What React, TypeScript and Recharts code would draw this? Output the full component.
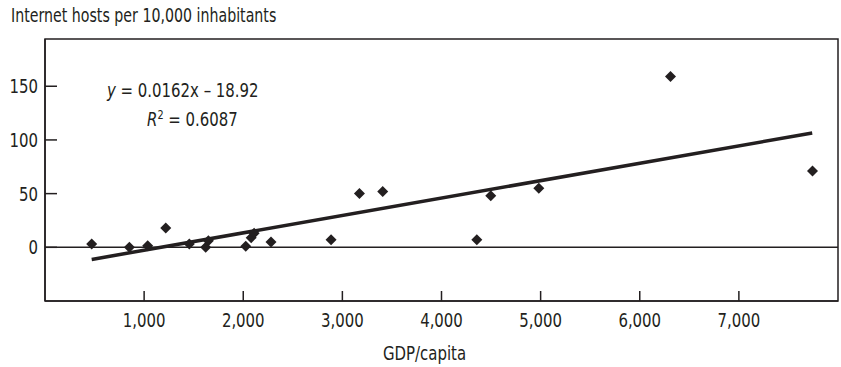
import { ScatterChart, Scatter, XAxis, YAxis, ReferenceLine, ReferenceArea } from "recharts";

// GDP per capita vs internet hosts per 10,000 inhabitants
const gdpPerCapita = [471, 851, 1036, 1218, 1456, 1621, 1648, 2025, 2080, 2110, 2280, 2886, 3172, 3407, 4356, 4497, 4982, 6310, 7743];
const hostsPer10k = [3, 0, 1.5, 18, 3, 0, 6, 1, 9, 13, 5, 7, 50, 52, 7, 48, 55, 159, 71];

const xTicks = [1000, 2000, 3000, 4000, 5000, 6000, 7000];
const yTicks = [0, 50, 100, 150];

const trendSlope = 0.0162;
const trendIntercept = -18.92;
const trendFrom = 471;
const trendTo = 7740;

const ink = "#231f20";
const font = "'Liberation Sans Narrow', 'DejaVu Sans Condensed', 'Roboto Condensed', sans-serif";
const squeeze = "scaleX(0.83)";

const points = gdpPerCapita.map((x, i) => ({ x, y: hostsPer10k[i] }));
const trend = [trendFrom, trendTo].map((x) => ({ x, y: trendSlope * x + trendIntercept }));

const Diamond = (props: any) => {
  const { cx, cy } = props;
  const r = 5.5;
  return <polygon points={`${cx},${cy - r} ${cx + r},${cy} ${cx},${cy + r} ${cx - r},${cy}`} fill={ink} />;
};

const XTick = ({ x, y, payload }: any) => (
  <text
    transform={`translate(${x},${y + 16}) scale(0.83,1)`}
    textAnchor="middle"
    fontSize={20}
    fill={ink}
    style={{ fontFamily: font, fontStretch: "condensed" }}
  >
    {Number(payload.value).toLocaleString("en-US")}
  </text>
);

const YTick = ({ x, y, payload }: any) => (
  <text
    transform={`translate(${x},${y + 7}) scale(0.83,1)`}
    textAnchor="end"
    fontSize={20}
    fill={ink}
    style={{ fontFamily: font, fontStretch: "condensed" }}
  >
    {payload.value}
  </text>
);

const textBox = (left: number, top: number) => ({
  position: "absolute" as const,
  left,
  top,
  fontSize: 20,
  lineHeight: "26px",
  whiteSpace: "nowrap" as const,
  transform: squeeze,
  transformOrigin: "left top",
});

export default function App() {
  return (
    <div style={{ position: "absolute", left: 0, top: 0, width: 841, height: 367, background: "#fff", fontFamily: font, fontStretch: "condensed", color: ink }}>
      <div style={{ ...textBox(11, 3), fontSize: 19, lineHeight: "24px" }}>Internet hosts per 10,000 inhabitants</div>
      <ScatterChart width={841} height={367} margin={{ top: 39, right: 3, left: 0, bottom: 0 }}>
        <XAxis
          type="number"
          dataKey="x"
          domain={[0, 8000]}
          ticks={xTicks}
          height={66}
          tickSize={-10}
          tickMargin={20}
          tick={<XTick />}
          stroke={ink}
          strokeWidth={1.5}
          allowDataOverflow
        />
        <YAxis
          type="number"
          dataKey="y"
          domain={[-50, 194]}
          ticks={yTicks}
          width={45}
          tickSize={-12}
          tickMargin={19}
          tick={<YTick />}
          stroke={ink}
          strokeWidth={1.5}
          allowDataOverflow
        />
        <ReferenceArea x1={0} x2={8000} y1={-50} y2={194} fill="none" stroke={ink} strokeWidth={1.5} />
        <ReferenceLine y={0} stroke={ink} strokeWidth={1.5} />
        <Scatter data={trend} line={{ stroke: ink, strokeWidth: 3.5 }} shape={() => <g />} isAnimationActive={false} />
        <Scatter data={points} shape={Diamond} isAnimationActive={false} />
      </ScatterChart>
      <div style={textBox(107, 77)}>
        <i>y</i> = 0.0162x – 18.92
      </div>
      <div style={textBox(147, 102)}>
        <i>R</i>
        <sup style={{ fontSize: 13, verticalAlign: "7px" }}>2</sup> = 0.6087
      </div>
      <div style={textBox(383, 340)}>GDP/capita</div>
    </div>
  );
}
